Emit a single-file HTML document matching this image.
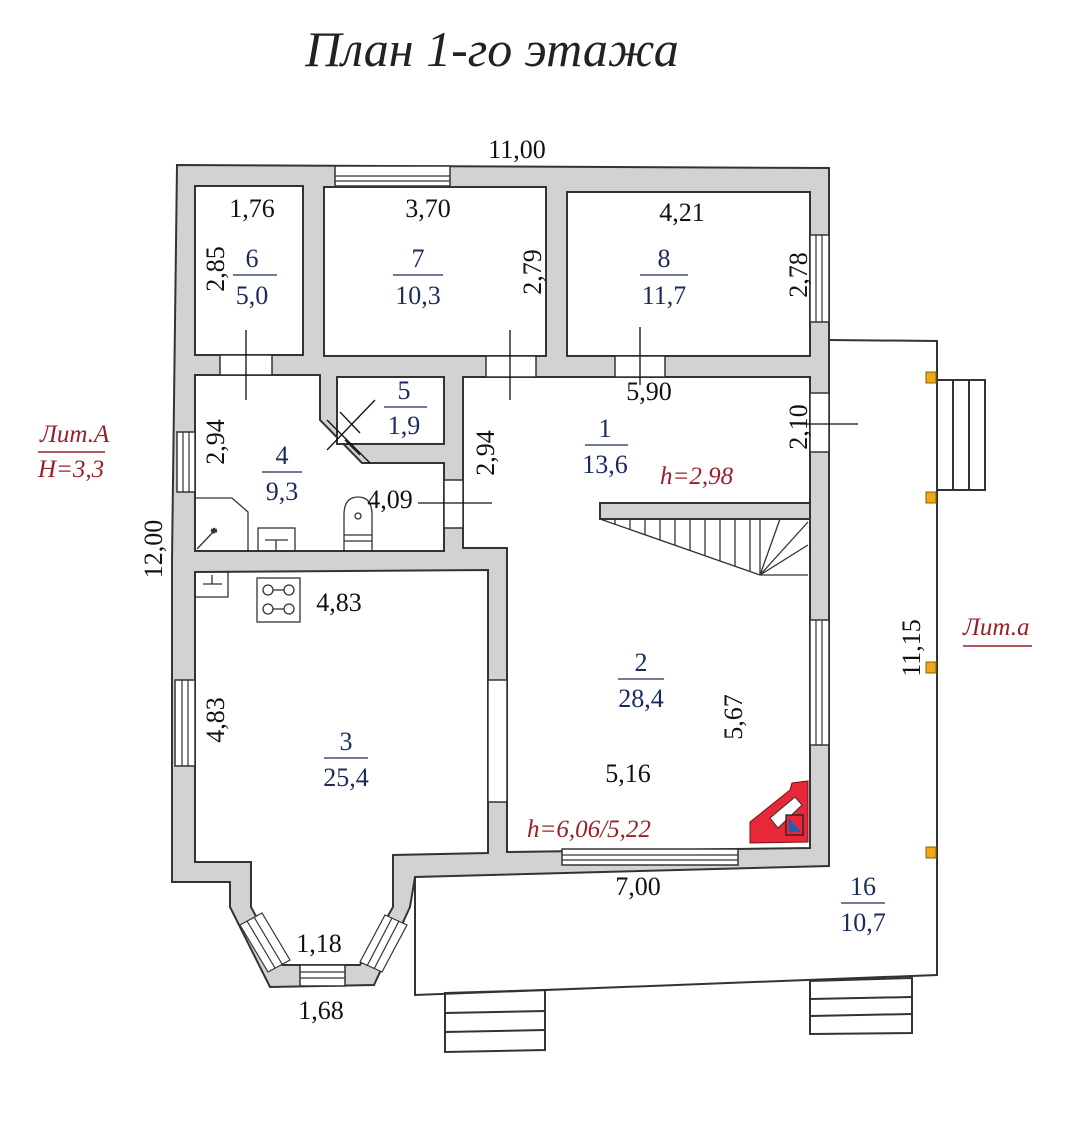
<!DOCTYPE html>
<html><head><meta charset="utf-8"><style>
html,body{margin:0;padding:0;background:#fff;}
svg{display:block}
text{font-family:"Liberation Serif",serif;}
.d{font-size:26px;fill:#111}
.n{font-size:26px;fill:#1b2a5c}
.r{font-size:25px;fill:#9a1f2a;font-style:italic}
</style></head><body>
<svg width="1080" height="1135" viewBox="0 0 1080 1135" xmlns="http://www.w3.org/2000/svg">
<rect width="1080" height="1135" fill="#fff"/>
<text x="492" y="66" text-anchor="middle" style="font-size:50px;font-style:italic;fill:#222">План 1-го этажа</text>

<polygon points="177,165 829,168 829,866 415,877 410,907 374,985 270,987 230,907 230,882 172,882 172,560" fill="#d2d2d2" stroke="#333" stroke-width="2"/>

<g fill="#fff" stroke="#333" stroke-width="2">
<rect x="195" y="186" width="108" height="169"/>
<rect x="324" y="187" width="222" height="169"/>
<rect x="567" y="192" width="243" height="164"/>
<polygon points="195,375 320,375 320,420 362,463 444,463 444,551 195,551"/>
<rect x="337" y="377" width="107" height="67"/>
<polygon points="463,377 810,377 810,848 507,852 507,548 463,548"/>
<polygon points="195,572 488,570 488,853 393,855 393,907 360,965 282,965 251,907 251,862 195,862"/>
</g>
<rect x="600" y="503" width="210" height="16" fill="#d2d2d2" stroke="#333" stroke-width="2"/>

<g fill="#fff" stroke="#333" stroke-width="1.5">
<rect x="335" y="166" width="115" height="20"/>
<rect x="810" y="235" width="19" height="87"/>
<rect x="810" y="620" width="19" height="125"/>
<rect x="177" y="432" width="18" height="60"/>
<rect x="175" y="680" width="20" height="86"/>
<rect x="562" y="849" width="176" height="16"/>
<rect x="300" y="965" width="45" height="21"/>
</g>
<g stroke="#333" stroke-width="1.2">
<line x1="335" y1="176" x2="450" y2="176"/><line x1="335" y1="181" x2="450" y2="181"/>
<line x1="816" y1="235" x2="816" y2="322"/><line x1="822" y1="235" x2="822" y2="322"/>
<line x1="816" y1="620" x2="816" y2="745"/><line x1="822" y1="620" x2="822" y2="745"/>
<line x1="183" y1="432" x2="183" y2="492"/><line x1="189" y1="432" x2="189" y2="492"/>
<line x1="182" y1="680" x2="182" y2="766"/><line x1="188" y1="680" x2="188" y2="766"/>
<line x1="562" y1="855" x2="738" y2="855"/><line x1="562" y1="860" x2="738" y2="860"/>
<line x1="300" y1="972" x2="345" y2="972"/><line x1="300" y1="978" x2="345" y2="978"/>
<polygon points="240,925 262,913 290,960 268,972" fill="#fff"/>
<line x1="247" y1="921" x2="275" y2="968"/><line x1="254" y1="917" x2="282" y2="964"/>
<polygon points="360,962 382,972 407,925 385,915" fill="#fff"/>
<line x1="367" y1="966" x2="392" y2="918"/><line x1="374" y1="969" x2="399" y2="921"/>
</g>
<g fill="#fff" stroke="#333" stroke-width="1.5">
<rect x="220" y="355" width="52" height="20"/>
<rect x="486" y="356" width="50" height="21"/>
<rect x="615" y="356" width="50" height="21"/>
<rect x="810" y="393" width="19" height="59"/>
<rect x="444" y="480" width="19" height="48"/>
<rect x="488" y="680" width="19" height="122"/>
</g>
<g stroke="#111" stroke-width="1.3">
<line x1="246" y1="330" x2="246" y2="400"/>
<line x1="510" y1="330" x2="510" y2="400"/>
<line x1="640" y1="327" x2="640" y2="385"/>
<line x1="418" y1="503" x2="492" y2="503"/>
<line x1="800" y1="424" x2="858" y2="424"/>
<line x1="327" y1="420" x2="370" y2="463"/>
<line x1="327" y1="450" x2="375" y2="400"/>
<line x1="340" y1="412" x2="360" y2="433"/>
<line x1="360" y1="455" x2="345" y2="440"/>
</g>

<g fill="none" stroke="#333" stroke-width="2">
<polyline points="829,340 937,341 937,975 415,995 415,877"/>
<rect x="937" y="380" width="48" height="110"/>
<line x1="953" y1="380" x2="953" y2="490"/><line x1="969" y1="380" x2="969" y2="490"/>
<polygon points="445,993 545,990 545,1050 445,1052"/>
<line x1="445" y1="1013" x2="545" y2="1011"/><line x1="445" y1="1032" x2="545" y2="1030"/>
<polygon points="810,981 912,978 912,1033 810,1034"/>
<line x1="810" y1="999" x2="912" y2="997"/><line x1="810" y1="1016" x2="912" y2="1014"/>
</g>
<g fill="#f0a818" stroke="#8a6000" stroke-width="1">
<rect x="926" y="372" width="10" height="11"/><rect x="926" y="492" width="10" height="11"/>
<rect x="926" y="662" width="10" height="11"/><rect x="926" y="847" width="10" height="11"/>
</g>

<g stroke="#333" stroke-width="1.3" fill="none">
<line x1="600" y1="519" x2="760" y2="575"/>
<line x1="760" y1="575" x2="808" y2="575"/>
<line x1="615" y1="519" x2="615" y2="524"/><line x1="630" y1="519" x2="630" y2="529"/>
<line x1="645" y1="519" x2="645" y2="535"/><line x1="660" y1="519" x2="660" y2="540"/>
<line x1="675" y1="519" x2="675" y2="545"/><line x1="690" y1="519" x2="690" y2="550"/>
<line x1="705" y1="519" x2="705" y2="556"/><line x1="720" y1="519" x2="720" y2="561"/>
<line x1="735" y1="519" x2="735" y2="566"/><line x1="750" y1="519" x2="750" y2="572"/>
<line x1="760" y1="575" x2="760" y2="519"/>
<line x1="760" y1="575" x2="780" y2="519"/><line x1="760" y1="575" x2="808" y2="522"/>
<line x1="760" y1="575" x2="808" y2="545"/>
</g>

<g stroke="#333" stroke-width="1.3" fill="none">
<polyline points="195,498 232,498 248,512 248,551"/>
<line x1="197" y1="549" x2="215" y2="530"/><text x="211" y="536" style="font-size:12px">*</text>
<rect x="258" y="528" width="37" height="23"/>
<line x1="265" y1="540" x2="288" y2="540"/><line x1="276" y1="540" x2="276" y2="551"/>
<path d="M344,551 V515 Q344,497 358,497 Q372,497 372,515 V551"/>
<circle cx="358" cy="516" r="3"/>
<line x1="344" y1="535" x2="372" y2="535"/><line x1="344" y1="541" x2="372" y2="541"/>
<rect x="195" y="572" width="33" height="25"/>
<line x1="203" y1="584" x2="222" y2="584"/><line x1="212" y1="575" x2="212" y2="584"/>
<rect x="257" y="578" width="43" height="44"/>
<circle cx="268" cy="590" r="5"/><circle cx="289" cy="590" r="5"/>
<circle cx="268" cy="609" r="5"/><circle cx="289" cy="609" r="5"/>
<line x1="273" y1="590" x2="284" y2="590"/><line x1="273" y1="609" x2="284" y2="609"/>
</g>
<polygon points="750,822 775,802 790,790 792,783 808,781 808,842 750,843" fill="#e8283a" stroke="#7a1010" stroke-width="1"/>
<polygon points="770,818 795,797 802,805 778,828" fill="#fff" stroke="#333" stroke-width="1"/>
<rect x="786" y="815" width="17" height="20" fill="#e8283a" stroke="#222" stroke-width="1.3"/>
<polygon points="789,818 801,832 789,832" fill="#1e5fb0"/>

<text class="d" x="517" y="158" text-anchor="middle">11,00</text>
<text class="d" x="252" y="217" text-anchor="middle">1,76</text>
<text class="d" x="428" y="217" text-anchor="middle">3,70</text>
<text class="d" x="682" y="221" text-anchor="middle">4,21</text>
<text class="d" x="649" y="400" text-anchor="middle">5,90</text>
<text class="d" x="390" y="508" text-anchor="middle">4,09</text>
<text class="d" x="339" y="611" text-anchor="middle">4,83</text>
<text class="d" x="628" y="782" text-anchor="middle">5,16</text>
<text class="d" x="638" y="895" text-anchor="middle">7,00</text>
<text class="d" x="319" y="952" text-anchor="middle">1,18</text>
<text class="d" x="321" y="1019" text-anchor="middle">1,68</text>
<text transform="translate(224,269) rotate(-90)" text-anchor="middle" class="d">2,85</text>
<text transform="translate(541,272) rotate(-90)" text-anchor="middle" class="d">2,79</text>
<text transform="translate(807,275) rotate(-90)" text-anchor="middle" class="d">2,78</text>
<text transform="translate(224,442) rotate(-90)" text-anchor="middle" class="d">2,94</text>
<text transform="translate(494,453) rotate(-90)" text-anchor="middle" class="d">2,94</text>
<text transform="translate(807,427) rotate(-90)" text-anchor="middle" class="d">2,10</text>
<text transform="translate(162,549) rotate(-90)" text-anchor="middle" class="d">12,00</text>
<text transform="translate(224,720) rotate(-90)" text-anchor="middle" class="d">4,83</text>
<text transform="translate(742,717) rotate(-90)" text-anchor="middle" class="d">5,67</text>
<text transform="translate(920,648) rotate(-90)" text-anchor="middle" class="d">11,15</text>

<g class="n" text-anchor="middle">
<text x="252" y="267">6</text><text x="252" y="304">5,0</text>
<text x="418" y="267">7</text><text x="418" y="304">10,3</text>
<text x="664" y="267">8</text><text x="664" y="304">11,7</text>
<text x="404" y="399">5</text><text x="404" y="434">1,9</text>
<text x="282" y="464">4</text><text x="282" y="500">9,3</text>
<text x="605" y="437">1</text><text x="605" y="473">13,6</text>
<text x="641" y="671">2</text><text x="641" y="707">28,4</text>
<text x="346" y="750">3</text><text x="346" y="786">25,4</text>
<text x="863" y="895">16</text><text x="863" y="931">10,7</text>
</g>
<g stroke="#1b2a5c" stroke-width="1.3">
<line x1="233" y1="275" x2="277" y2="275"/><line x1="393" y1="275" x2="443" y2="275"/>
<line x1="640" y1="275" x2="688" y2="275"/><line x1="384" y1="407" x2="427" y2="407"/>
<line x1="262" y1="472" x2="302" y2="472"/><line x1="585" y1="445" x2="628" y2="445"/>
<line x1="618" y1="679" x2="664" y2="679"/><line x1="324" y1="758" x2="368" y2="758"/>
<line x1="841" y1="903" x2="885" y2="903"/>
</g>

<text class="r" x="660" y="484">h=2,98</text>
<text class="r" x="527" y="837">h=6,06/5,22</text>
<text class="r" x="40" y="442">Лит.А</text>
<line x1="38" y1="452" x2="105" y2="452" stroke="#9a1f2a" stroke-width="1.5"/>
<text class="r" x="38" y="477">H=3,3</text>
<text class="r" x="963" y="635">Лит.а</text>
<line x1="963" y1="646" x2="1032" y2="646" stroke="#9a1f2a" stroke-width="1.5"/>
</svg>
</body></html>
